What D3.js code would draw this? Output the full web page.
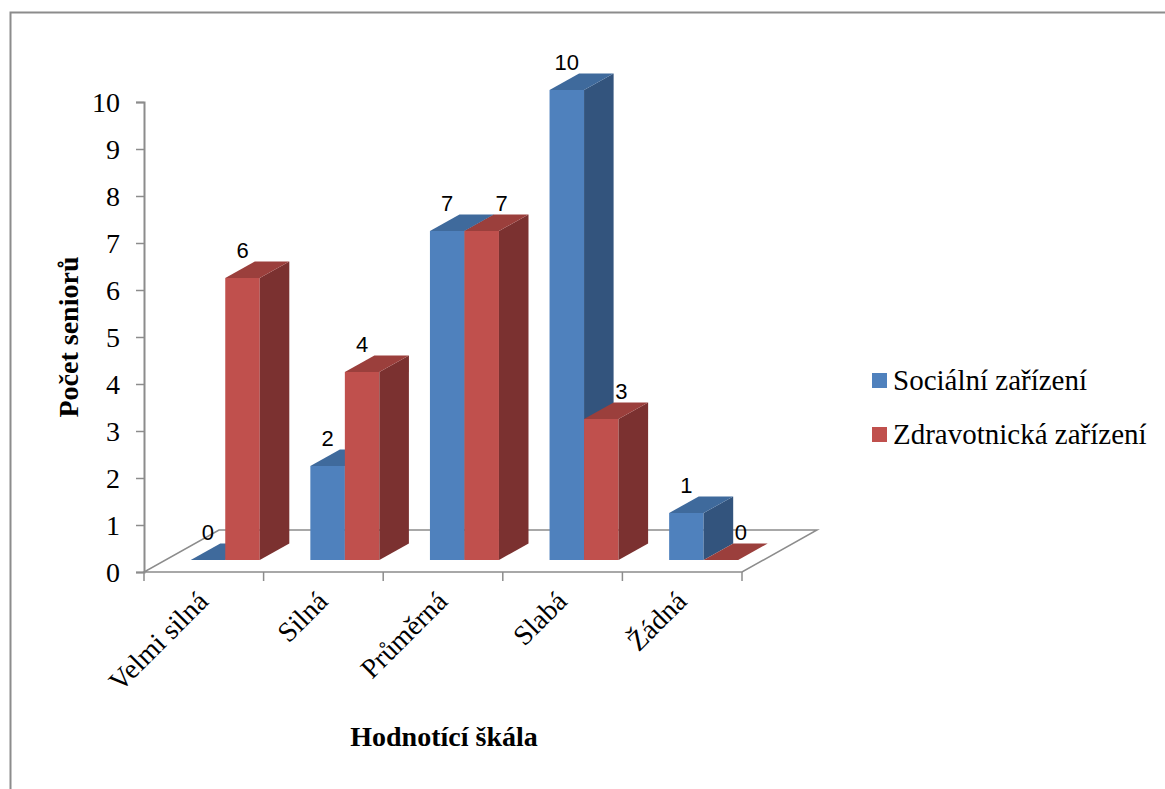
<!DOCTYPE html>
<html>
<head>
<meta charset="utf-8">
<script src="https://cdn.jsdelivr.net/npm/d3@7"></script>
<style>
  html, body { margin: 0; padding: 0; background: #fff; }
  svg { display: block; }
  .serif { font-family: "Liberation Serif", "Times New Roman", serif; }
  .sans { font-family: "Liberation Sans", Arial, sans-serif; }
</style>
</head>
<body>
<svg id="chart" width="1165" height="789"></svg>
<script>
// Hodnotící škála – počet seniorů podle typu zařízení
const categories = ["Velmi silná", "Silná", "Průměrná", "Slabá", "Žádná"];
const seriesNames = ["Sociální zařízení", "Zdravotnická zařízení"];
const socialni = [0, 2, 7, 10, 1];
const zdravotnicka = [6, 4, 7, 3, 0];
const yTicks = [0, 1, 2, 3, 4, 5, 6, 7, 8, 9, 10];

const seriesValues = [socialni, zdravotnicka];
const colors = [
  { front: "#4F81BD", top: "#3F6A9C", side: "#33547D" },
  { front: "#C0504D", top: "#9B3F3C", side: "#7B3130" }
];

const svg = d3.select("#chart");
const gridGray = "#8c8c8c";

// outer frame
svg.append("rect")
  .attr("x", 10.5).attr("y", 12.5)
  .attr("width", 1300).attr("height", 900)
  .attr("fill", "none").attr("stroke", gridGray).attr("stroke-width", 2);

// scales
const y = d3.scaleLinear().domain([0, 10]).range([572, 102]);
const x = d3.scaleBand().domain(categories).range([144, 742]);
const xs = d3.scaleBand().domain(seriesNames)
  .range([0, x.bandwidth()]).paddingInner(0).paddingOuter(0.733);

// floor depth vector and bar depth placement (fractions of the floor depth)
const D = { x: 75, y: -42 };
const tFront = 0.286, tBack = 0.68;
const proj = (px, v, t) => [px + t * D.x, y(v) + t * D.y];

// floor
const x0 = x.range()[0], x1 = x.range()[1];
const floorPts = [proj(x0, 0, 0), proj(x1, 0, 0), proj(x1, 0, 1), proj(x0, 0, 1)];
svg.append("polygon")
  .attr("points", floorPts.map(p => p.join(",")).join(" "))
  .attr("fill", "#fff").attr("stroke", gridGray).attr("stroke-width", 1.5);

// y axis
const yAxis = d3.axisLeft(y).tickValues(yTicks).tickSize(8).tickPadding(16)
  .tickFormat(d3.format("d"));
const gy = svg.append("g").attr("transform", `translate(${x0},0)`).call(yAxis)
  .attr("font-family", null).attr("font-size", null);
gy.select(".domain").attr("stroke", gridGray).attr("stroke-width", 2);
gy.selectAll(".tick line").attr("stroke", gridGray).attr("stroke-width", 1.5);
gy.selectAll(".tick text")
  .attr("class", "serif")
  .style("font-size", "28px").attr("fill", "#000")
  .attr("dy", "0.34em");

// x axis ticks along the front floor edge
const xTickPos = categories.map(c => x(c)).concat([x1]);
svg.append("g").selectAll("line").data(xTickPos).join("line")
  .attr("x1", d => d).attr("x2", d => d)
  .attr("y1", y(0)).attr("y2", y(0) + 9)
  .attr("stroke", gridGray).attr("stroke-width", 1.5);

// bars
const barsG = svg.append("g");
const bw = xs.bandwidth();
const poly = (pts, fill) => barsG.append("polygon")
  .attr("points", pts.map(p => p.join(",")).join(" ")).attr("fill", fill);

const labelData = [];
categories.forEach((cat, i) => {
  seriesNames.forEach((s, k) => {
    const v = seriesValues[k][i];
    const l = x(cat) + xs(s), r = l + bw;
    const c = colors[k];
    const fbl = proj(l, 0, tFront), fbr = proj(r, 0, tFront);
    const ftl = proj(l, v, tFront), ftr = proj(r, v, tFront);
    const bbr = proj(r, 0, tBack);
    const btl = proj(l, v, tBack), btr = proj(r, v, tBack);
    if (v > 0) {
      poly([fbl, fbr, ftr, ftl], c.front);
      poly([fbr, bbr, btr, ftr], c.side);
    }
    poly([ftl, ftr, btr, btl], c.top);
    // data label, nudged right when the neighbouring bar is as tall
    let lx = (ftl[0] + ftr[0]) / 2;
    if (k === 1 && seriesValues[0][i] >= v) lx += 20;
    labelData.push({ x: lx, y: ftl[1] - 28, v });
  });
});

svg.append("g").selectAll("text").data(labelData).join("text")
  .attr("class", "sans")
  .attr("x", d => d.x).attr("y", d => d.y).attr("dy", "0.36em")
  .attr("text-anchor", "middle")
  .style("font-size", "22px").attr("fill", "#000")
  .text(d => d.v);

// category labels, rotated
svg.append("g").selectAll("text").data(categories).join("text")
  .attr("class", "serif")
  .attr("transform", c => `translate(${x(c) + x.bandwidth() / 2 + 6},${603}) rotate(-45)`)
  .attr("text-anchor", "end")
  .style("font-size", "28px").attr("fill", "#000")
  .text(c => c);

// axis titles
svg.append("text")
  .attr("class", "serif")
  .attr("transform", "translate(78,337) rotate(-90)")
  .attr("text-anchor", "middle")
  .style("font-size", "28px").style("font-weight", "bold")
  .text("Počet seniorů");

svg.append("text")
  .attr("class", "serif")
  .attr("x", 444).attr("y", 746)
  .attr("text-anchor", "middle")
  .style("font-size", "28px").style("font-weight", "bold")
  .text("Hodnotící škála");

// legend
const legend = svg.append("g").selectAll("g").data(seriesNames).join("g")
  .attr("transform", (d, i) => `translate(872,${373 + i * 54})`);
legend.append("rect").attr("width", 15).attr("height", 15)
  .attr("fill", (d, i) => colors[i].front);
legend.append("text")
  .attr("class", "serif")
  .attr("x", 21).attr("y", 17)
  .style("font-size", "29px").attr("fill", "#000")
  .text(d => d);
</script>
</body>
</html>
